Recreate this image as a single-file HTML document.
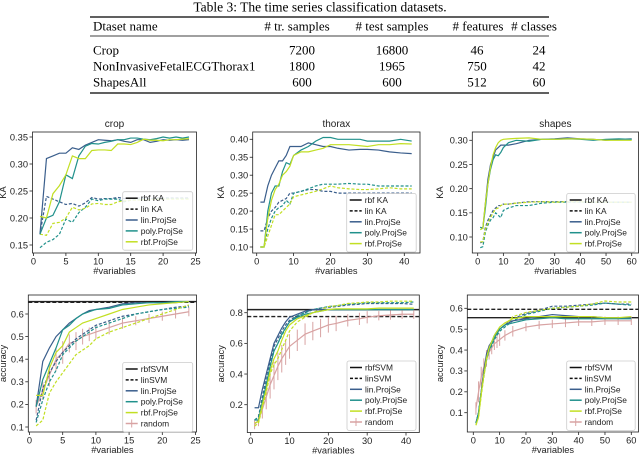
<!DOCTYPE html>
<html><head><meta charset="utf-8">
<style>
html,body{margin:0;padding:0;background:#fff;}
svg{display:block;}
text{font-family:"Liberation Sans",sans-serif;}
.serif{font-family:"Liberation Serif",serif;}
</style></head>
<body>
<svg id="fig" width="640" height="455" viewBox="0 0 640 455" xmlns="http://www.w3.org/2000/svg">
<g>
<text class="serif" x="320" y="11.5" font-size="13.5" text-anchor="middle">Table 3: The time series classification datasets.</text>
<line x1="90" y1="17" x2="549" y2="17" stroke="#000" stroke-width="1.2"/>
<line x1="90" y1="36" x2="549" y2="36" stroke="#000" stroke-width="0.7"/>
<line x1="90" y1="93" x2="549" y2="93" stroke="#000" stroke-width="1.2"/>
<g font-size="13" class="serif">
<text class="serif" x="93" y="30.5">Dtaset name</text>
<text class="serif" x="297" y="30.5" text-anchor="middle"># tr. samples</text>
<text class="serif" x="392" y="30.5" text-anchor="middle"># test samples</text>
<text class="serif" x="478" y="30.5" text-anchor="middle"># features</text>
<text class="serif" x="534" y="30.5" text-anchor="middle"># classes</text>
</g>
<g font-size="13">
<text class="serif" x="93" y="54.5">Crop</text><text class="serif" x="302" y="54.5" text-anchor="middle">7200</text><text class="serif" x="392" y="54.5" text-anchor="middle">16800</text><text class="serif" x="477" y="54.5" text-anchor="middle">46</text><text class="serif" x="539" y="54.5" text-anchor="middle">24</text>
</g>
<g font-size="13">
<text class="serif" x="93" y="70.5">NonInvasiveFetalECGThorax1</text><text class="serif" x="302" y="70.5" text-anchor="middle">1800</text><text class="serif" x="392" y="70.5" text-anchor="middle">1965</text><text class="serif" x="477" y="70.5" text-anchor="middle">750</text><text class="serif" x="539" y="70.5" text-anchor="middle">42</text>
</g>
<g font-size="13">
<text class="serif" x="93" y="86.5">ShapesAll</text><text class="serif" x="302" y="86.5" text-anchor="middle">600</text><text class="serif" x="392" y="86.5" text-anchor="middle">600</text><text class="serif" x="477" y="86.5" text-anchor="middle">512</text><text class="serif" x="539" y="86.5" text-anchor="middle">60</text>
</g>
</g>
</svg>
<script>
// ---------- data ----------
const cropX = [1,2,3,4,5,6,7,8,9,10,11,12,13,14,15,16,17,18,19,20,21,22,23,24];
const cropKaLin  = [0.17,0.31,0.315,0.32,0.32,0.33,0.327,0.335,0.34,0.345,0.344,0.343,0.345,0.342,0.34,0.345,0.345,0.34,0.342,0.345,0.344,0.345,0.344,0.345];
const cropKaPoly = [0.17,0.20,0.205,0.23,0.28,0.273,0.315,0.333,0.338,0.337,0.34,0.342,0.345,0.345,0.348,0.348,0.346,0.345,0.347,0.35,0.348,0.35,0.348,0.35];
const cropKaRbf  = [0.203,0.20,0.245,0.26,0.28,0.315,0.31,0.31,0.325,0.326,0.326,0.325,0.337,0.337,0.336,0.34,0.346,0.344,0.344,0.343,0.345,0.345,0.346,0.347];
const cropKaLinD  = [0.17,0.24,0.235,0.23,0.225,0.227,0.222,0.228,0.238,0.235,0.236,0.236,0.238,0.236,0.236,0.237,0.237,0.236,0.237,0.237,0.237,0.237,0.237,0.237];
const cropKaPolyD = [0.145,0.155,0.16,0.17,0.198,0.192,0.21,0.22,0.235,0.232,0.235,0.235,0.235,0.23,0.233,0.234,0.235,0.235,0.236,0.236,0.236,0.236,0.236,0.236];
const cropKaRbfD  = [0.17,0.168,0.19,0.192,0.2,0.22,0.215,0.218,0.226,0.227,0.225,0.225,0.23,0.232,0.233,0.233,0.234,0.234,0.235,0.235,0.235,0.235,0.235,0.235];

const cropAccX = [1,2,3,4,5,6,7,8,9,10,12,14,16,18,20,22,24];
const cropAccLin  = [0.19,0.39,0.45,0.5,0.53,0.56,0.58,0.6,0.615,0.62,0.63,0.645,0.65,0.65,0.65,0.65,0.655];
const cropAccPoly = [0.19,0.31,0.38,0.45,0.53,0.55,0.58,0.6,0.61,0.62,0.625,0.64,0.645,0.65,0.65,0.655,0.655];
const cropAccRbf  = [0.24,0.24,0.36,0.43,0.46,0.52,0.54,0.56,0.57,0.58,0.6,0.62,0.63,0.64,0.645,0.65,0.655];
const cropAccLinD  = [0.13,0.27,0.34,0.39,0.43,0.46,0.49,0.51,0.53,0.55,0.57,0.59,0.6,0.61,0.62,0.63,0.635];
const cropAccPolyD = [0.12,0.22,0.3,0.35,0.42,0.45,0.48,0.5,0.52,0.54,0.56,0.58,0.6,0.61,0.62,0.625,0.63];
const cropAccRbfD  = [0.105,0.13,0.25,0.3,0.34,0.38,0.42,0.44,0.46,0.49,0.52,0.54,0.56,0.58,0.6,0.62,0.64];
const cropRandom    = [0.19,0.26,0.33,0.4,0.43,0.47,0.48,0.5,0.51,0.52,0.54,0.56,0.57,0.58,0.59,0.6,0.61];
const cropRandomErr = [0.03,0.04,0.05,0.05,0.05,0.04,0.04,0.035,0.03,0.03,0.03,0.025,0.02,0.02,0.02,0.02,0.02];
const cropRbfSVM = 0.655, cropLinSVM = 0.652;

const thxX = [1,2,3,4,5,6,7,8,9,10,12,14,16,18,20,22,25,28,30,33,36,39,42];
const thxKaLin  = [0.225,0.225,0.27,0.3,0.32,0.34,0.34,0.355,0.38,0.38,0.38,0.39,0.385,0.38,0.38,0.375,0.37,0.372,0.372,0.37,0.365,0.362,0.36];
const thxKaPoly = [0.10,0.10,0.20,0.25,0.27,0.27,0.31,0.335,0.33,0.355,0.37,0.38,0.395,0.405,0.405,0.4,0.4,0.4,0.395,0.395,0.395,0.4,0.395];
const thxKaRbf  = [0.10,0.10,0.18,0.23,0.26,0.275,0.3,0.31,0.325,0.355,0.365,0.365,0.37,0.375,0.385,0.385,0.385,0.382,0.38,0.385,0.385,0.388,0.387];
const thxKaLinD  = [0.145,0.145,0.18,0.2,0.21,0.225,0.23,0.235,0.25,0.25,0.255,0.26,0.26,0.255,0.255,0.25,0.25,0.25,0.25,0.25,0.25,0.25,0.25];
const thxKaPolyD = [0.10,0.10,0.15,0.18,0.2,0.21,0.215,0.23,0.22,0.25,0.255,0.262,0.27,0.275,0.275,0.275,0.277,0.275,0.275,0.27,0.27,0.27,0.27];
const thxKaRbfD  = [0.10,0.10,0.13,0.16,0.19,0.19,0.2,0.21,0.22,0.24,0.245,0.25,0.255,0.262,0.27,0.265,0.262,0.26,0.26,0.262,0.265,0.262,0.262];

const thxAccLin  = [0.18,0.18,0.3,0.4,0.5,0.6,0.65,0.7,0.74,0.77,0.79,0.81,0.82,0.82,0.82,0.82,0.82,0.82,0.82,0.82,0.82,0.82,0.82];
const thxAccPoly = [0.1,0.1,0.22,0.33,0.45,0.55,0.6,0.66,0.7,0.74,0.77,0.79,0.8,0.81,0.82,0.82,0.82,0.82,0.82,0.82,0.82,0.82,0.82];
const thxAccRbf  = [0.08,0.09,0.2,0.3,0.42,0.5,0.55,0.62,0.68,0.72,0.76,0.78,0.8,0.81,0.82,0.825,0.825,0.825,0.825,0.83,0.83,0.83,0.83];
const thxAccLinD  = [0.1,0.12,0.25,0.38,0.48,0.58,0.63,0.68,0.72,0.75,0.78,0.8,0.82,0.83,0.835,0.84,0.85,0.855,0.86,0.86,0.86,0.86,0.855];
const thxAccPolyD = [0.1,0.12,0.23,0.34,0.45,0.55,0.6,0.65,0.7,0.74,0.78,0.8,0.82,0.83,0.84,0.845,0.855,0.86,0.865,0.865,0.865,0.865,0.87];
const thxAccRbfD  = [0.06,0.08,0.18,0.28,0.4,0.46,0.5,0.56,0.62,0.68,0.74,0.77,0.8,0.82,0.84,0.845,0.86,0.865,0.87,0.87,0.875,0.875,0.875];
const thxRandom    = [0.07,0.1,0.17,0.25,0.33,0.39,0.45,0.5,0.54,0.58,0.62,0.66,0.68,0.7,0.72,0.73,0.75,0.76,0.77,0.78,0.785,0.79,0.79];
const thxRandomErr = [0.03,0.04,0.06,0.08,0.09,0.09,0.09,0.09,0.08,0.08,0.07,0.07,0.06,0.06,0.05,0.05,0.04,0.04,0.04,0.03,0.03,0.03,0.03];
const thxRbfSVM = 0.82, thxLinSVM = 0.775;

const shpX = [1,2,3,4,5,6,7,8,9,10,12,15,20,25,30,35,40,45,50,55,60];
const shpKaLin  = [0.12,0.118,0.17,0.22,0.25,0.265,0.28,0.285,0.29,0.29,0.29,0.293,0.3,0.302,0.303,0.305,0.303,0.302,0.3,0.302,0.303];
const shpKaPoly = [0.12,0.118,0.16,0.21,0.24,0.26,0.27,0.268,0.275,0.285,0.295,0.3,0.298,0.302,0.302,0.303,0.302,0.3,0.302,0.303,0.302];
const shpKaRbf  = [0.115,0.118,0.17,0.21,0.245,0.27,0.285,0.295,0.3,0.302,0.303,0.304,0.305,0.302,0.302,0.303,0.303,0.302,0.3,0.3,0.3];
const shpKaLinD  = [0.088,0.09,0.12,0.135,0.145,0.155,0.16,0.165,0.165,0.168,0.168,0.17,0.173,0.173,0.173,0.173,0.173,0.172,0.172,0.172,0.172];
const shpKaPolyD = [0.078,0.08,0.11,0.125,0.135,0.14,0.15,0.145,0.14,0.155,0.16,0.165,0.165,0.17,0.172,0.172,0.172,0.172,0.172,0.172,0.172];
const shpKaRbfD  = [0.09,0.09,0.115,0.13,0.14,0.15,0.158,0.16,0.165,0.168,0.168,0.17,0.172,0.173,0.172,0.173,0.173,0.172,0.172,0.172,0.172];

const shpAccLin  = [0.05,0.1,0.2,0.3,0.38,0.42,0.44,0.47,0.49,0.5,0.52,0.54,0.55,0.56,0.57,0.565,0.56,0.56,0.555,0.555,0.555];
const shpAccPoly = [0.05,0.1,0.2,0.28,0.36,0.4,0.43,0.46,0.48,0.5,0.52,0.53,0.545,0.55,0.555,0.55,0.55,0.55,0.55,0.55,0.55];
const shpAccRbf  = [0.04,0.08,0.19,0.28,0.36,0.41,0.44,0.47,0.49,0.51,0.53,0.55,0.56,0.56,0.56,0.56,0.56,0.56,0.555,0.555,0.56];
const shpAccLinD  = [0.05,0.1,0.2,0.3,0.37,0.41,0.43,0.46,0.48,0.5,0.52,0.55,0.575,0.59,0.61,0.61,0.615,0.62,0.625,0.62,0.62];
const shpAccPolyD = [0.05,0.1,0.2,0.28,0.35,0.4,0.42,0.45,0.47,0.49,0.51,0.54,0.57,0.585,0.6,0.605,0.61,0.615,0.625,0.62,0.615];
const shpAccRbfD  = [0.04,0.08,0.18,0.27,0.35,0.4,0.43,0.46,0.48,0.5,0.52,0.56,0.58,0.59,0.6,0.605,0.61,0.62,0.635,0.63,0.63];
const shpRandom    = [0.12,0.2,0.27,0.32,0.36,0.39,0.41,0.43,0.44,0.45,0.47,0.49,0.51,0.52,0.525,0.53,0.535,0.535,0.54,0.54,0.54];
const shpRandomErr = [0.03,0.05,0.05,0.04,0.04,0.035,0.03,0.03,0.03,0.03,0.025,0.025,0.02,0.02,0.02,0.02,0.02,0.02,0.02,0.02,0.02];
const shpRbfSVM = 0.555, shpLinSVM = 0.595;

const xTicksCrop = [0,5,10,15,20,25];
const xTicksThx = [0,10,20,30,40];
const xTicksShp = [0,10,20,30,40,50,60];
const yTicksCropKa = [0.15,0.20,0.25,0.30,0.35];
const yTicksThxKa = [0.10,0.15,0.20,0.25,0.30,0.35,0.40];
const yTicksShpKa = [0.10,0.15,0.20,0.25,0.30];
const yTicksCropAcc = [0.1,0.2,0.3,0.4,0.5,0.6];
const yTicksThxAcc = [0.2,0.4,0.6,0.8];
const yTicksShpAcc = [0.1,0.2,0.3,0.4,0.5,0.6];
const legendKa = ["rbf KA","lin KA","lin.ProjSe","poly.ProjSe","rbf.ProjSe"];
const legendAcc = ["rbfSVM","linSVM","lin.ProjSe","poly.ProjSe","rbf.ProjSe","random"];

// ---------- drawing ----------
const NS = "http://www.w3.org/2000/svg";
const svg = document.getElementById('fig');
const C_LIN = "#3a5e8c", C_POLY = "#21918c", C_RBF = "#c2df23", C_RND = "#d8a3a3";
const FS = 9.3;
function mk(tag, attrs, parent){ const e=document.createElementNS(NS,tag); for(const k in attrs) e.setAttribute(k,attrs[k]); parent.appendChild(e); return e; }
function lin(d0,d1,r0,r1){ return v => r0 + (v-d0)/(d1-d0)*(r1-r0); }

function panel(p){
  const g = mk('g',{},svg);
  
  
  const sx = lin(p.xd[0],p.xd[1],p.xr[0],p.xr[1]);
  const sy = lin(p.yd[0],p.yd[1],p.yr[0],p.yr[1]);
  const clipId = 'c'+p.name;
  const cp = mk('clipPath',{id:clipId},g);
  mk('rect',{x:p.fx0,y:p.fy0,width:p.fx1-p.fx0,height:p.fy1-p.fy0},cp);
  const plot = mk('g',{'clip-path':'url(#'+clipId+')'},g);
  (p.hlines||[]).forEach(h=>{
    const l = mk('line',{x1:p.fx0,x2:p.fx1,y1:sy(h.v),y2:sy(h.v),stroke:'#222','stroke-width':1.4,'stroke-dasharray':h.dash?'4,2':'none'},plot);
    
    
  });
  if(p.random){
    const rg = mk('g',{},plot);
    
    
    p.x.forEach((xv,i)=>{
      mk('line',{x1:sx(xv),x2:sx(xv),y1:sy(p.random[i]-p.randomErr[i]),y2:sy(p.random[i]+p.randomErr[i]),stroke:C_RND,'stroke-width':1},rg);
    });
    mk('polyline',{points:p.x.map((xv,i)=>sx(xv)+','+sy(p.random[i])).join(' '),fill:'none',stroke:C_RND,'stroke-width':1.2},rg);
  }
  p.series.forEach(s=>{
    const pl = mk('polyline',{points:p.x.map((xv,i)=>sx(xv)+','+sy(s.v[i])).join(' '),fill:'none',stroke:s.c,'stroke-width':1.2,'stroke-dasharray':s.dash?'3,1.8':'none'},plot);
    
    
  });
  mk('rect',{x:p.fx0,y:p.fy0,width:p.fx1-p.fx0,height:p.fy1-p.fy0,fill:'none',stroke:'#222','stroke-width':0.8},g);
  const xa = mk('g',{},g);
  
  
  p.xt.forEach(t=>{
    mk('line',{x1:sx(t),x2:sx(t),y1:p.fy1,y2:p.fy1+3,stroke:'#222','stroke-width':0.8},xa);
    const tx = mk('text',{x:sx(t),y:p.fy1+11.5,'font-size':FS,'text-anchor':'middle',fill:'#222'},xa);
    tx.textContent = t;
  });
  const xl = mk('text',{x:(p.fx0+p.fx1)/2,y:p.fy1+21,'font-size':FS,'text-anchor':'middle',fill:'#222'},g);
  
  
  xl.textContent = '#variables';
  const ya = mk('g',{},g);
  
  
  p.yt.forEach(t=>{
    mk('line',{x1:p.fx0-3,x2:p.fx0,y1:sy(t),y2:sy(t),stroke:'#222','stroke-width':0.8},ya);
    const tx = mk('text',{x:p.fx0-4.5,y:sy(t)+3.3,'font-size':FS,'text-anchor':'end',fill:'#222'},ya);
    tx.textContent = t.toFixed(p.ydec);
  });
  const yl = mk('text',{x:p.ylx,y:(p.fy0+p.fy1)/2,'font-size':FS,'text-anchor':'middle',fill:'#222',transform:'rotate(-90 '+p.ylx+' '+(p.fy0+p.fy1)/2+')'},g);
  
  
  yl.textContent = p.ylabel;
  if(p.title){
    const tt = mk('text',{x:(p.fx0+p.fx1)/2,y:p.fy0-5,'font-size':10,'text-anchor':'middle',fill:'#222'},g);
    
    
    tt.textContent = p.title;
  }
  const lg = mk('g',{},g);
  
  
  const n = p.legend.length, lx=p.lx, ly=p.ly, lw=p.lw, lh = n*10.9+4;
  mk('rect',{x:lx,y:ly,width:lw,height:lh,fill:'#fff','fill-opacity':0.85,stroke:'#ccc','stroke-width':0.8,rx:2},lg);
  const cols = ['#111','#111',C_LIN,C_POLY,C_RBF,C_RND];
  p.legend.forEach((lab,i)=>{
    const cy = ly+6.5+i*10.9;
    const e = mk('g',{},lg);
    
    
    mk('line',{x1:lx+3,x2:lx+15,y1:cy,y2:cy,stroke:cols[i],'stroke-width':1.5,'stroke-dasharray':i==1?'3,1.8':'none'},e);
    if(i==5) mk('line',{x1:lx+9,x2:lx+9,y1:cy-4,y2:cy+4,stroke:cols[i],'stroke-width':1},e);
    const t = mk('text',{x:lx+18,y:cy+3,'font-size':8.4,fill:'#222'},e);
    t.textContent = lab;
  });
}

panel({name:'crop-ka-chart',title:'crop',ylabel:'KA',ylx:6,x:cropX,
  xd:[0,25],xr:[33.5,195.5],yd:[0.15,0.35],yr:[245,137],fx0:32.5,fx1:196.5,fy0:132,fy1:253,
  xt:xTicksCrop,yt:yTicksCropKa,ydec:2,legend:legendKa,lx:122.7,ly:191.7,lw:70,
  series:[{v:cropKaLinD,c:C_LIN,dash:1,name:'lin-projse-lin-ka'},{v:cropKaPolyD,c:C_POLY,dash:1,name:'poly-projse-lin-ka'},{v:cropKaRbfD,c:C_RBF,dash:1,name:'rbf-projse-lin-ka'},
          {v:cropKaLin,c:C_LIN,name:'lin-projse-rbf-ka'},{v:cropKaPoly,c:C_POLY,name:'poly-projse-rbf-ka'},{v:cropKaRbf,c:C_RBF,name:'rbf-projse-rbf-ka'}]});
panel({name:'thorax-ka-chart',title:'thorax',ylabel:'KA',ylx:224,x:thxX,
  xd:[0,40],xr:[256.7,404.3],yd:[0.10,0.40],yr:[247,139.3],fx0:252.7,fx1:420,fy0:132,fy1:253,
  xt:xTicksThx,yt:yTicksThxKa,ydec:2,legend:legendKa,lx:346.7,ly:193.5,lw:69.5,
  series:[{v:thxKaLinD,c:C_LIN,dash:1,name:'lin-projse-lin-ka'},{v:thxKaPolyD,c:C_POLY,dash:1,name:'poly-projse-lin-ka'},{v:thxKaRbfD,c:C_RBF,dash:1,name:'rbf-projse-lin-ka'},
          {v:thxKaLin,c:C_LIN,name:'lin-projse-rbf-ka'},{v:thxKaPoly,c:C_POLY,name:'poly-projse-rbf-ka'},{v:thxKaRbf,c:C_RBF,name:'rbf-projse-rbf-ka'}]});
panel({name:'shapes-ka-chart',title:'shapes',ylabel:'KA',ylx:443,x:shpX,
  xd:[0,60],xr:[477.7,631.7],yd:[0.10,0.30],yr:[237,140.3],fx0:472.3,fx1:638.5,fy0:132,fy1:253,
  xt:xTicksShp,yt:yTicksShpKa,ydec:2,legend:legendKa,lx:566.7,ly:193.5,lw:68.5,
  series:[{v:shpKaLinD,c:C_LIN,dash:1,name:'lin-projse-lin-ka'},{v:shpKaPolyD,c:C_POLY,dash:1,name:'poly-projse-lin-ka'},{v:shpKaRbfD,c:C_RBF,dash:1,name:'rbf-projse-lin-ka'},
          {v:shpKaLin,c:C_LIN,name:'lin-projse-rbf-ka'},{v:shpKaPoly,c:C_POLY,name:'poly-projse-rbf-ka'},{v:shpKaRbf,c:C_RBF,name:'rbf-projse-rbf-ka'}]});

panel({name:'crop-accuracy-chart',ylabel:'accuracy',ylx:6,x:cropAccX,random:cropRandom,randomErr:cropRandomErr,
  xd:[0,25],xr:[29.5,195.5],yd:[0.1,0.6],yr:[427,314],fx0:28.3,fx1:196.5,fy0:295,fy1:432,
  xt:xTicksCrop,yt:yTicksCropAcc,ydec:1,legend:legendAcc,lx:122.7,ly:362.5,lw:70,
  hlines:[{v:cropRbfSVM,name:'rbf-svm-line'},{v:cropLinSVM,dash:1,name:'lin-svm-line'}],
  series:[{v:cropAccLinD,c:C_LIN,dash:1,name:'lin-projse-lin-svm'},{v:cropAccPolyD,c:C_POLY,dash:1,name:'poly-projse-lin-svm'},{v:cropAccRbfD,c:C_RBF,dash:1,name:'rbf-projse-lin-svm'},
          {v:cropAccLin,c:C_LIN,name:'lin-projse-rbf-svm'},{v:cropAccPoly,c:C_POLY,name:'poly-projse-rbf-svm'},{v:cropAccRbf,c:C_RBF,name:'rbf-projse-rbf-svm'}]});
panel({name:'thorax-accuracy-chart',ylabel:'accuracy',ylx:224,x:thxX,random:thxRandom,randomErr:thxRandomErr,
  xd:[0,40],xr:[250.7,406],yd:[0.2,0.8],yr:[404.7,312.7],fx0:247.3,fx1:419.3,fy0:295,fy1:432.5,
  xt:xTicksThx,yt:yTicksThxAcc,ydec:1,legend:legendAcc,lx:347,ly:361,lw:69,
  hlines:[{v:thxRbfSVM,name:'rbf-svm-line'},{v:thxLinSVM,dash:1,name:'lin-svm-line'}],
  series:[{v:thxAccLinD,c:C_LIN,dash:1,name:'lin-projse-lin-svm'},{v:thxAccPolyD,c:C_POLY,dash:1,name:'poly-projse-lin-svm'},{v:thxAccRbfD,c:C_RBF,dash:1,name:'rbf-projse-lin-svm'},
          {v:thxAccLin,c:C_LIN,name:'lin-projse-rbf-svm'},{v:thxAccPoly,c:C_POLY,name:'poly-projse-rbf-svm'},{v:thxAccRbf,c:C_RBF,name:'rbf-projse-rbf-svm'}]});
panel({name:'shapes-accuracy-chart',ylabel:'accuracy',ylx:443,x:shpX,random:shpRandom,randomErr:shpRandomErr,
  xd:[0,60],xr:[473.3,631.3],yd:[0.1,0.6],yr:[412.7,308.3],fx0:467.3,fx1:638.5,fy0:295,fy1:432,
  xt:xTicksShp,yt:yTicksShpAcc,ydec:1,legend:legendAcc,lx:566.7,ly:361,lw:68.5,
  hlines:[{v:shpRbfSVM,name:'rbf-svm-line'},{v:shpLinSVM,dash:1,name:'lin-svm-line'}],
  series:[{v:shpAccLinD,c:C_LIN,dash:1,name:'lin-projse-lin-svm'},{v:shpAccPolyD,c:C_POLY,dash:1,name:'poly-projse-lin-svm'},{v:shpAccRbfD,c:C_RBF,dash:1,name:'rbf-projse-lin-svm'},
          {v:shpAccLin,c:C_LIN,name:'lin-projse-rbf-svm'},{v:shpAccPoly,c:C_POLY,name:'poly-projse-rbf-svm'},{v:shpAccRbf,c:C_RBF,name:'rbf-projse-rbf-svm'}]});
</script>
</body></html>
